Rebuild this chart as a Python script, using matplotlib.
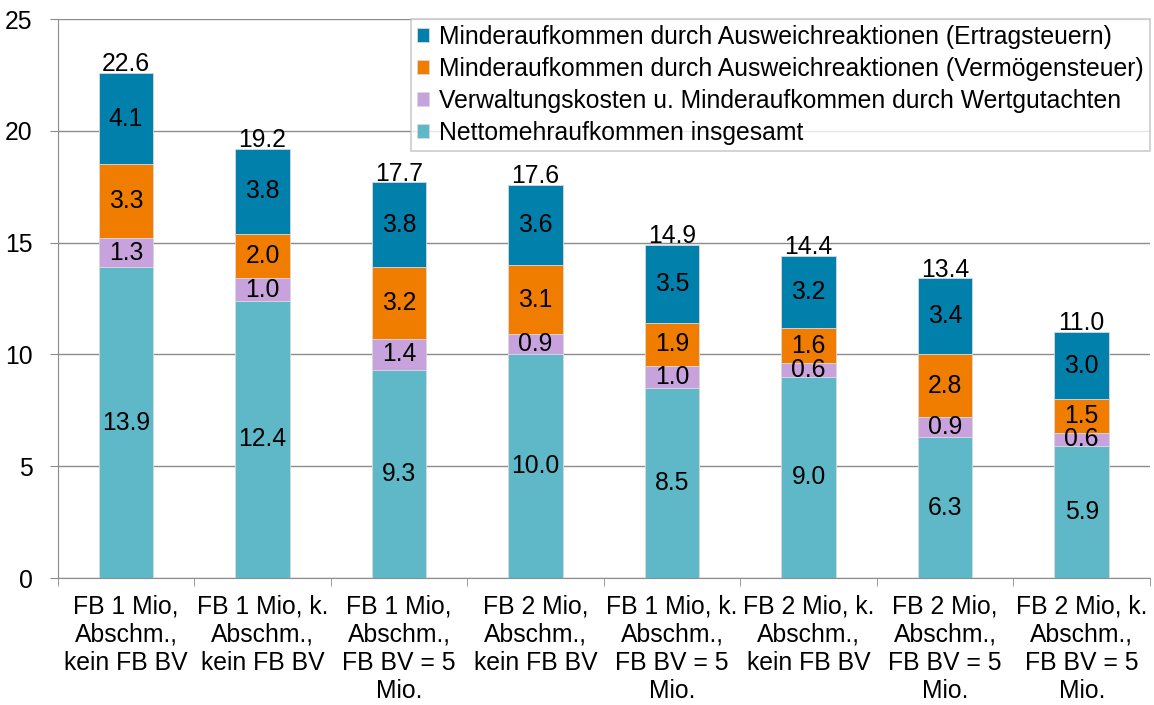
import matplotlib.pyplot as plt
import numpy as np

plt.rcParams['font.family'] = ['Liberation Sans', 'DejaVu Sans']

categories = [
    "FB 1 Mio,\nAbschm.,\nkein FB BV",
    "FB 1 Mio, k.\nAbschm.,\nkein FB BV",
    "FB 1 Mio,\nAbschm.,\nFB BV = 5\nMio.",
    "FB 2 Mio,\nAbschm.,\nkein FB BV",
    "FB 1 Mio, k.\nAbschm.,\nFB BV = 5\nMio.",
    "FB 2 Mio, k.\nAbschm.,\nkein FB BV",
    "FB 2 Mio,\nAbschm.,\nFB BV = 5\nMio.",
    "FB 2 Mio, k.\nAbschm.,\nFB BV = 5\nMio.",
]
netto = [13.9, 12.4, 9.3, 10.0, 8.5, 9.0, 6.3, 5.9]
verwaltung = [1.3, 1.0, 1.4, 0.9, 1.0, 0.6, 0.9, 0.6]
vermoegen = [3.3, 2.0, 3.2, 3.1, 1.9, 1.6, 2.8, 1.5]
ertrag = [4.1, 3.8, 3.8, 3.6, 3.5, 3.2, 3.4, 3.0]
totals = [22.6, 19.2, 17.7, 17.6, 14.9, 14.4, 13.4, 11.0]

series = [
    ("Nettomehraufkommen insgesamt", netto, "#5fb8c8"),
    ("Verwaltungskosten u. Minderaufkommen durch Wertgutachten", verwaltung, "#c8a2dc"),
    ("Minderaufkommen durch Ausweichreaktionen (Vermögensteuer)", vermoegen, "#f07c00"),
    ("Minderaufkommen durch Ausweichreaktionen (Ertragsteuern)", ertrag, "#0080aa"),
]

FS = 17.8

fig = plt.figure(figsize=(11.54, 7.05), dpi=100)
ax = fig.add_axes([0.050, 0.180, 0.9465, 0.793])

x = np.arange(len(categories))
bottom = np.zeros(len(categories))
handles = []
for label, vals, color in series:
    vals = np.array(vals)
    bars = ax.bar(x, vals, 0.4, bottom=bottom, color=color, label=label,
                  edgecolor="#d9d9d9", linewidth=0.6, zorder=3)
    handles.append(bars)
    for xi, b, v in zip(x, bottom, vals):
        ax.text(xi, b + v / 2, f"{v:.1f}", ha="center", va="center",
                fontsize=FS, zorder=4)
    bottom += vals

for xi, t in zip(x, totals):
    ax.text(xi, t - 0.15, f"{t:.1f}", ha="center", va="bottom",
            fontsize=FS, zorder=4)

ax.set_xlim(-0.5, len(categories) - 0.5)
ax.set_ylim(0, 25)
ax.set_yticks(range(0, 26, 5))
ax.yaxis.grid(True, color="#8c8c8c", linewidth=1, zorder=0)
ax.set_axisbelow(True)

ax.set_xticks(x)
ax.set_xticklabels(categories, fontsize=FS, linespacing=1.22)
ax.set_xticks(np.arange(-0.5, len(categories), 1), minor=True)
ax.tick_params(axis="x", which="major", length=0, pad=12)
ax.tick_params(axis="x", which="minor", length=6, color="#8c8c8c")
ax.tick_params(axis="y", length=6, color="#8c8c8c", labelsize=FS, pad=12)

for s in ["top", "right"]:
    ax.spines[s].set_visible(False)
for s in ["left", "bottom"]:
    ax.spines[s].set_color("#8c8c8c")

leg = ax.legend(handles=handles[::-1], loc="upper right",
                bbox_to_anchor=(1.0, 1.0), fontsize=FS, frameon=True,
                fancybox=False, edgecolor="#bfbfbf", handlelength=0.5,
                handleheight=0.5, handletextpad=0.4, borderpad=0.25,
                labelspacing=0.32, borderaxespad=0.0)
leg.get_frame().set_linewidth(1.2)

fig.savefig("out.png", dpi=100)
